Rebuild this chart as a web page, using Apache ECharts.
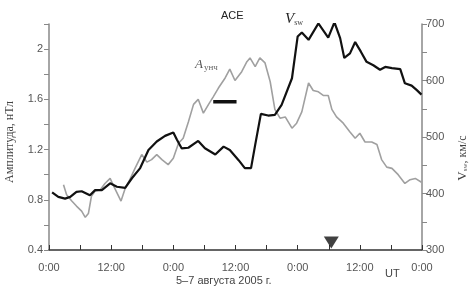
<!DOCTYPE html>
<html>
<head>
<meta charset="utf-8">
<script src="https://cdn.jsdelivr.net/npm/echarts@6/dist/echarts.min.js"></script>
<style>html,body{margin:0;padding:0;background:#fff}#c{width:472px;height:290px}</style>
</head>
<body>
<div id="c"></div>
<script>
// Time in hours from 0:00 on 5 August 2005 (UT)
const xTickLabels = ['0:00', '12:00', '0:00', '12:00', '0:00', '12:00', '0:00'];
const leftTickLabels = ['0.4', '0.8', '1.2', '1.6', '2'];
const rightTickLabels = ['300', '400', '500', '600', '700'];

// Gray curve: ULF amplitude, nT (left axis)
const ampTime = [2.8,3.4,4.4,5.3,6.3,7.0,7.6,8.2,8.9,9.9,10.8,11.8,12.7,13.9,14.7,15.6,16.6,17.9,18.9,19.8,20.8,21.8,23.0,24.0,25.0,25.9,26.9,27.9,28.8,29.8,30.8,31.7,32.7,34.0,34.9,35.9,37.2,38.2,38.8,39.8,40.7,41.7,42.7,43.6,44.6,45.6,46.9,47.8,48.8,50.1,51.0,52.0,53.0,53.9,54.6,55.5,56.8,58.1,59.1,60.0,61.0,62.3,63.3,64.2,65.2,66.2,67.4,68.7,69.7,70.7,71.9];
const ampValue = [0.92,0.84,0.79,0.75,0.71,0.66,0.69,0.83,0.87,0.88,0.93,0.97,0.89,0.79,0.89,0.96,1.05,1.16,1.10,1.12,1.16,1.12,1.08,1.13,1.25,1.29,1.42,1.56,1.60,1.49,1.56,1.62,1.69,1.77,1.84,1.75,1.82,1.90,1.93,1.86,1.93,1.89,1.74,1.52,1.45,1.46,1.37,1.41,1.50,1.73,1.67,1.66,1.63,1.63,1.52,1.46,1.41,1.34,1.29,1.33,1.26,1.26,1.24,1.12,1.06,1.05,1.00,0.93,0.96,0.97,0.94];

// Black curve: solar wind speed Vsw, km/s (right axis)
const vswTime = [0.6,1.8,3.1,4.1,5.3,6.3,7.9,8.9,10.2,11.8,13.1,14.7,16.0,17.6,19.2,20.8,22.4,24.0,24.7,25.6,26.9,28.8,30.1,32.1,33.7,34.9,36.6,37.8,39.0,39.8,40.9,42.3,43.6,44.9,46.9,48.0,48.8,50.1,52.0,53.9,55.1,56.2,57.0,58.1,59.1,60.2,61.3,62.6,63.9,64.9,66.2,67.8,68.7,70.0,71.0,71.9];
const vswValue = [402,394,391,394,403,404,397,406,406,418,412,410,427,445,477,492,502,508,495,480,481,493,480,469,483,477,459,445,445,486,541,538,539,557,604,678,685,672,701,676,703,675,640,648,668,651,633,627,619,624,622,620,595,591,583,575];

// Horizontal bar marker and event triangle
const barTime = [31.7, 36.2];
const barValue = [1.58, 1.58];
const triangleTime = [54.5];
const triangleValue = [0.46];

const zip = (a, b) => a.map((v, i) => [v, b[i]]);

const chart = echarts.init(document.getElementById('c'), null, {renderer: 'canvas'});
const labelStyle = {color: '#555', fontFamily: 'Liberation Sans, Arial, sans-serif', fontSize: 11};

chart.setOption({
  animation: false,
  backgroundColor: '#fff',
  grid: {left: 49, right: 50, top: 24, bottom: 40},
  xAxis: {
    type: 'value', min: 0, max: 72, interval: 6,
    axisLine: {lineStyle: {color: '#333', width: 1.5}},
    axisTick: {inside: true, length: 5, lineStyle: {color: '#333'}},
    splitLine: {show: false},
    axisLabel: Object.assign({}, labelStyle, {
      margin: 12,
      formatter: v => (v % 12 === 0 ? xTickLabels[v / 12] : '')
    })
  },
  yAxis: [
    {
      type: 'value', min: 0.4, max: 2.2, interval: 0.2, position: 'left',
      axisLine: {show: true, lineStyle: {color: '#888', width: 1.5}},
      axisTick: {length: 5, lineStyle: {color: '#888'}},
      splitLine: {show: false},
      axisLabel: Object.assign({}, labelStyle, {
        margin: 6,
        formatter: v => { const k = Math.round(v * 10); return k % 4 === 0 ? leftTickLabels[(k - 4) / 4] : ''; }
      })
    },
    {
      type: 'value', min: 300, max: 700, interval: 50, position: 'right',
      axisLine: {show: true, lineStyle: {color: '#888', width: 1.5}},
      axisTick: {length: 5, lineStyle: {color: '#888'}},
      splitLine: {show: false},
      axisLabel: Object.assign({}, labelStyle, {
        margin: 4,
        formatter: v => (v % 100 === 0 ? rightTickLabels[(v - 300) / 100] : '')
      })
    }
  ],
  series: [
    {type: 'line', yAxisIndex: 0, data: zip(ampTime, ampValue), showSymbol: false,
     lineStyle: {color: '#a0a0a0', width: 1.6}, z: 2},
    {type: 'line', yAxisIndex: 1, data: zip(vswTime, vswValue), showSymbol: false,
     lineStyle: {color: '#111', width: 2.2}, z: 3},
    {type: 'line', yAxisIndex: 0, data: zip(barTime, barValue), showSymbol: false,
     lineStyle: {color: '#111', width: 3.5}, z: 4},
    {type: 'scatter', yAxisIndex: 0, data: zip(triangleTime, triangleValue),
     symbol: 'triangle', symbolRotate: 180, symbolSize: [15, 12],
     itemStyle: {color: '#111'}, z: 5}
  ],
  graphic: [
    {type: 'text', left: 221, top: 10, style: {text: 'ACE', fill: '#222', font: '11px "Liberation Sans", Arial, sans-serif'}},
    {type: 'text', x: 285, y: 11, style: {
      text: '{v|V}{s|sw}', rich: {
        v: {fontFamily: 'Liberation Serif', fontStyle: 'italic', fontSize: 15, fill: '#222'},
        s: {fontFamily: 'Liberation Serif', fontSize: 8, fill: '#444', padding: [8, 0, 0, 0]}
      }}},
    {type: 'text', x: 195, y: 57, style: {
      text: '{a|A}{s|унч}', rich: {
        a: {fontFamily: 'Liberation Serif', fontStyle: 'italic', fontSize: 13, fill: '#555'},
        s: {fontFamily: 'Liberation Serif', fontSize: 9, fill: '#666', padding: [6, 0, 0, 1]}
      }}},
    {type: 'text', x: 10, y: 142, rotation: Math.PI / 2, style: {
      text: 'Амплитуда, нТл', fill: '#444', font: '12px "Liberation Serif", serif',
      align: 'center', verticalAlign: 'middle'}},
    {type: 'text', x: 463, y: 158, rotation: Math.PI / 2, style: {
      text: '{v|V}{s|sw}{n|, км/с}', align: 'center', verticalAlign: 'middle', rich: {
        v: {fontFamily: 'Liberation Serif', fontSize: 13, fill: '#444'},
        s: {fontFamily: 'Liberation Serif', fontSize: 7, fill: '#555', padding: [5, 0, 0, 0]},
        n: {fontFamily: 'Liberation Serif', fontSize: 12, fill: '#444'}
      }}},
    {type: 'text', left: 176, top: 275, style: {text: '5–7 августа 2005 г.', fill: '#444', font: '11px "Liberation Sans", Arial, sans-serif'}},
    {type: 'text', left: 385, top: 268, style: {text: 'UT', fill: '#444', font: '11px "Liberation Sans", Arial, sans-serif'}}
  ]
});
</script>
</body>
</html>
